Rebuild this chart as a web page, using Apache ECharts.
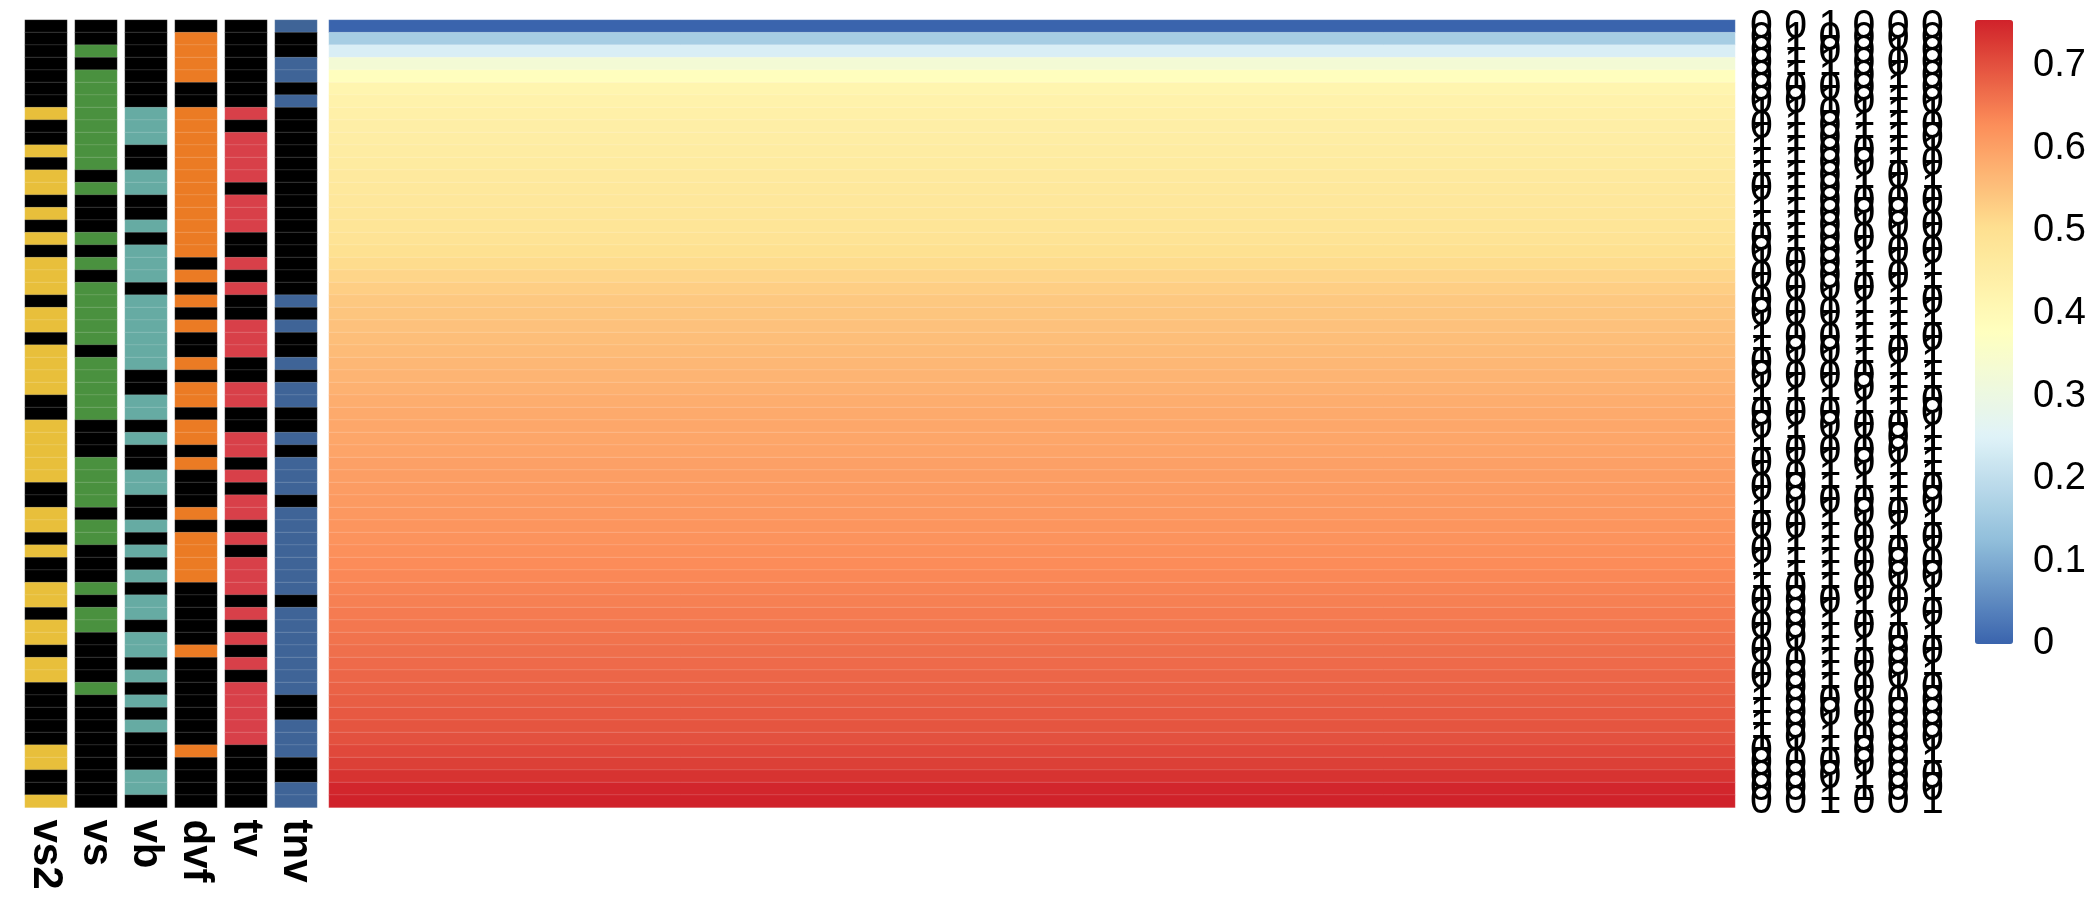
<!DOCTYPE html>
<html>
<head>
<meta charset="utf-8">
<script src="https://cdn.jsdelivr.net/npm/echarts@6/dist/echarts.min.js"></script>
<style>
  html, body { margin: 0; padding: 0; background: #fff; }
  #chart { width: 2100px; height: 914px; }
</style>
</head>
<body>
<div id="chart"></div>
<script>
// annotation columns, one value per row (top to bottom), 1 = coloured, 0 = black
const vs2 = [0,0,0,0,0,0,0,1,0,0, 1,0,1,1,0,1,0,1,0,1, 1,1,0,1,1,0,1,1,1,1,
             0,0,1,1,1,1,1,0,0,1, 1,0,1,0,0,1,1,0,1,1, 0,1,1,0,0,0,0,0,1,1, 0,0,1];
const vs  = [0,0,1,0,1,1,1,1,1,1, 1,1,0,1,0,0,0,1,0,1, 0,1,1,1,1,1,0,1,1,1,
             1,1,0,0,0,1,1,1,1,0, 1,1,0,0,0,1,0,1,1,0, 0,0,0,1,0,0,0,0,0,0, 0,0,0];
const vb  = [0,0,0,0,0,0,0,1,1,1, 0,0,1,1,0,0,1,0,1,1, 1,0,1,1,1,1,1,1,0,0,
             1,1,0,1,0,0,1,1,0,0, 1,0,1,0,1,0,1,1,0,1, 1,0,1,0,1,0,1,0,0,0, 1,1,0];
const dvf = [0,1,1,1,1,0,0,1,1,1, 1,1,1,1,1,1,1,1,1,0, 1,0,1,0,1,0,0,1,0,1,
             1,0,1,1,0,1,0,0,0,1, 0,1,1,1,1,0,0,0,0,0, 1,0,0,0,0,0,0,0,1,0, 0,0,0];
const tv  = [0,0,0,0,0,0,0,1,0,1, 1,1,1,0,1,1,1,0,0,1, 0,1,0,0,1,1,1,0,0,1,
             1,0,0,1,1,0,1,0,1,1, 0,1,0,1,1,1,0,1,0,1, 0,1,0,1,1,1,1,1,0,0, 0,0,0];
const tnv = [1,0,0,1,1,0,1,0,0,0, 0,0,0,0,0,0,0,0,0,0, 0,0,1,0,1,0,0,1,0,1,
             1,0,0,1,0,1,1,1,0,1, 1,1,1,1,1,1,0,1,1,1, 1,1,1,1,0,0,1,1,1,0, 0,1,1];

// main heatmap, one value per row
const mainValues = [
  0.00, 0.16, 0.24, 0.33, 0.38, 0.42, 0.43, 0.44, 0.445, 0.45,
  0.455, 0.46, 0.465, 0.47, 0.475, 0.48, 0.485, 0.49, 0.50, 0.51,
  0.52, 0.53, 0.54, 0.545, 0.55, 0.555, 0.56, 0.565, 0.57, 0.575,
  0.58, 0.585, 0.59, 0.592, 0.595, 0.60, 0.603, 0.606, 0.61, 0.613,
  0.617, 0.62, 0.625, 0.63, 0.635, 0.64, 0.645, 0.65, 0.655, 0.66,
  0.665, 0.67, 0.675, 0.68, 0.685, 0.69, 0.695, 0.70, 0.71, 0.72,
  0.735, 0.75, 0.76
];

const annNames = ["vs2", "vs", "vb", "dvf", "tv", "tnv"];
const annColors = ["#E8BF3B", "#4A913F", "#66ABA3", "#EB7B24", "#D84049", "#3F6497"];
const colorTicks = [0, 0.1, 0.2, 0.3, 0.4, 0.5, 0.6, 0.7];

const annData = [vs2, vs, vb, dvf, tv, tnv];
const nRows = mainValues.length;
const rowIdx = mainValues.map((_, i) => String(i));
// row labels read as: tv dvf tnv vb vs vs2
const rowLabels = mainValues.map((_, i) =>
  [tv[i], dvf[i], tnv[i], vb[i], vs[i], vs2[i]].join(" ")
);

const FONT = '"Liberation Sans", Arial, Helvetica, sans-serif';
const TOP = 20;
const ROW_H = 12.5;
const H = ROW_H * nRows;
const cellBorder = { borderColor: "rgba(255,255,255,0.15)", borderWidth: 1 };

const grid = [];
const xAxis = [];
const yAxis = [];
const series = [];
const visualMap = [];

annNames.forEach((name, i) => {
  grid.push({ left: 25 + 50 * i, width: 42, top: TOP, height: H });
  xAxis.push({
    type: "category",
    gridIndex: i,
    data: [name],
    position: "bottom",
    axisLine: { show: false },
    axisTick: { show: false },
    axisLabel: {
      rotate: -90,
      margin: 12,
      color: "#000",
      fontSize: 42,
      fontWeight: "bold",
      fontFamily: FONT,
    },
  });
  yAxis.push({
    type: "category",
    gridIndex: i,
    data: rowIdx,
    inverse: true,
    show: false,
  });
  series.push({
    type: "heatmap",
    xAxisIndex: i,
    yAxisIndex: i,
    data: annData[i].map((v, r) => [0, r, v]),
    itemStyle: cellBorder,
    emphasis: { disabled: true },
  });
  visualMap.push({
    type: "piecewise",
    show: false,
    seriesIndex: i,
    pieces: [
      { value: 0, color: "#000000" },
      { value: 1, color: annColors[i] },
    ],
  });
});

// main heatmap
const mi = annNames.length;
grid.push({ left: 329, width: 1406, top: TOP, height: H });
xAxis.push({ type: "category", gridIndex: mi, data: [""], show: false });
yAxis.push({
  type: "category",
  gridIndex: mi,
  data: rowIdx,
  inverse: true,
  position: "right",
  axisLine: { show: false },
  axisTick: { show: false },
  axisLabel: {
    interval: 0,
    margin: 15,
    color: "#000",
    fontSize: 41,
    fontFamily: FONT,
    formatter: (v, idx) => rowLabels[idx],
  },
});
series.push({
  type: "heatmap",
  xAxisIndex: mi,
  yAxisIndex: mi,
  data: mainValues.map((v, r) => [0, r, v]),
  itemStyle: cellBorder,
  emphasis: { disabled: true },
});
visualMap.push({
  type: "continuous",
  seriesIndex: mi,
  min: 0,
  max: 0.755,
  calculable: false,
  left: 1975,
  top: TOP,
  padding: 0,
  itemWidth: 38,
  itemHeight: 624,
  text: null,
  inRange: {
    color: ["#3A64AD", "#91BFDB", "#E0F3F8", "#FFFFBF", "#FEE090", "#FC8D59", "#D0222A"],
  },
});

// tick labels for the colour key
const ci = mi + 1;
grid.push({ left: 1975, width: 38, top: TOP, height: 624 });
xAxis.push({ type: "value", gridIndex: ci, show: false, min: 0, max: 1 });
yAxis.push({
  type: "value",
  gridIndex: ci,
  min: 0,
  max: 0.755,
  interval: 0.1,
  position: "right",
  axisLine: { show: false },
  axisTick: { show: false },
  splitLine: { show: false },
  axisLabel: {
    margin: 20,
    color: "#000",
    fontSize: 38,
    fontFamily: FONT,
    showMaxLabel: false,
    formatter: (v) => (colorTicks.some((t) => Math.abs(t - v) < 1e-6) ? String(+v.toFixed(1)) : ""),
  },
});

const chart = echarts.init(document.getElementById("chart"), null, { renderer: "canvas" });
chart.setOption({
  animation: false,
  backgroundColor: "#ffffff",
  textStyle: { fontFamily: FONT },
  grid,
  xAxis,
  yAxis,
  visualMap,
  series,
});
</script>
</body>
</html>
